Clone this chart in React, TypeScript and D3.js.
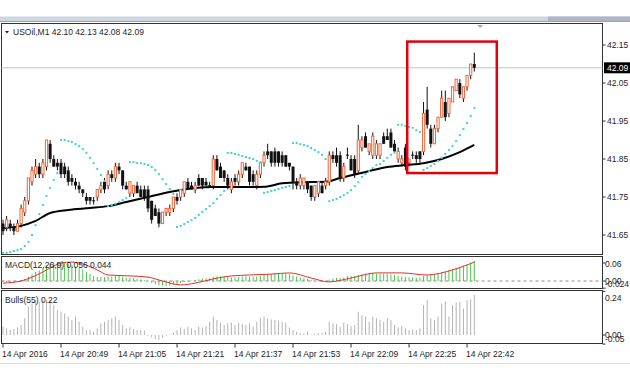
import React from 'react';
import * as d3 from 'd3';

// USOil M1 bars, oldest first: [open, high, low, close]
const ohlc: [number, number, number, number][] = [
  [41.68, 41.69, 41.65, 41.66], [41.67, 41.70, 41.66, 41.69], [41.68, 41.69, 41.66, 41.67], [41.67, 41.68, 41.65, 41.66],
  [41.66, 41.69, 41.66, 41.68], [41.68, 41.73, 41.67, 41.72], [41.71, 41.75, 41.70, 41.74], [41.74, 41.80, 41.73, 41.80],
  [41.79, 41.83, 41.78, 41.82], [41.81, 41.85, 41.80, 41.83], [41.83, 41.84, 41.80, 41.81], [41.81, 41.85, 41.80, 41.84],
  [41.83, 41.90, 41.82, 41.90], [41.89, 41.90, 41.84, 41.85], [41.85, 41.86, 41.83, 41.83], [41.84, 41.85, 41.82, 41.83],
  [41.84, 41.85, 41.80, 41.81], [41.83, 41.84, 41.80, 41.81], [41.82, 41.83, 41.78, 41.79], [41.80, 41.81, 41.78, 41.79],
  [41.79, 41.80, 41.77, 41.78], [41.78, 41.79, 41.76, 41.77], [41.77, 41.77, 41.75, 41.76], [41.75, 41.76, 41.73, 41.74],
  [41.75, 41.75, 41.73, 41.74], [41.74, 41.75, 41.73, 41.74], [41.75, 41.77, 41.74, 41.77], [41.77, 41.79, 41.76, 41.78],
  [41.79, 41.80, 41.76, 41.77], [41.78, 41.82, 41.77, 41.81], [41.81, 41.82, 41.79, 41.80], [41.80, 41.84, 41.79, 41.83],
  [41.83, 41.84, 41.81, 41.82], [41.82, 41.82, 41.77, 41.78], [41.78, 41.79, 41.77, 41.77], [41.76, 41.79, 41.75, 41.79],
  [41.76, 41.78, 41.75, 41.78], [41.78, 41.79, 41.76, 41.76], [41.77, 41.78, 41.75, 41.75], [41.77, 41.78, 41.74, 41.75],
  [41.77, 41.78, 41.71, 41.72], [41.74, 41.74, 41.68, 41.69], [41.72, 41.73, 41.70, 41.70], [41.71, 41.72, 41.67, 41.68],
  [41.68, 41.71, 41.68, 41.71], [41.71, 41.72, 41.70, 41.72], [41.71, 41.73, 41.70, 41.72], [41.72, 41.75, 41.71, 41.75],
  [41.75, 41.76, 41.73, 41.74], [41.75, 41.77, 41.74, 41.77], [41.76, 41.79, 41.75, 41.79], [41.79, 41.80, 41.77, 41.77],
  [41.78, 41.79, 41.77, 41.77], [41.77, 41.79, 41.76, 41.78], [41.80, 41.81, 41.78, 41.78], [41.80, 41.80, 41.77, 41.78],
  [41.79, 41.80, 41.78, 41.78], [41.78, 41.79, 41.78, 41.78], [41.78, 41.86, 41.77, 41.85], [41.85, 41.86, 41.82, 41.82],
  [41.83, 41.84, 41.80, 41.80], [41.82, 41.82, 41.79, 41.80], [41.80, 41.81, 41.77, 41.78], [41.77, 41.80, 41.76, 41.79],
  [41.80, 41.81, 41.78, 41.79], [41.79, 41.82, 41.78, 41.81], [41.81, 41.84, 41.80, 41.84], [41.83, 41.84, 41.82, 41.82],
  [41.83, 41.83, 41.78, 41.79], [41.81, 41.82, 41.78, 41.79], [41.78, 41.82, 41.77, 41.81], [41.81, 41.84, 41.80, 41.84],
  [41.84, 41.87, 41.83, 41.86], [41.87, 41.89, 41.85, 41.86], [41.87, 41.87, 41.83, 41.84], [41.87, 41.88, 41.83, 41.84],
  [41.87, 41.87, 41.83, 41.84], [41.86, 41.87, 41.83, 41.84], [41.86, 41.86, 41.83, 41.83], [41.84, 41.84, 41.82, 41.83],
  [41.83, 41.83, 41.77, 41.79], [41.79, 41.80, 41.77, 41.78], [41.78, 41.81, 41.77, 41.80], [41.78, 41.80, 41.77, 41.80],
  [41.79, 41.79, 41.76, 41.77], [41.78, 41.78, 41.74, 41.75], [41.75, 41.78, 41.74, 41.78], [41.76, 41.79, 41.75, 41.79],
  [41.78, 41.79, 41.76, 41.76], [41.78, 41.80, 41.77, 41.79], [41.79, 41.87, 41.78, 41.86], [41.86, 41.87, 41.84, 41.85],
  [41.86, 41.88, 41.83, 41.84], [41.86, 41.87, 41.79, 41.80], [41.80, 41.84, 41.79, 41.83], [41.86, 41.88, 41.85, 41.86],
  [41.85, 41.86, 41.82, 41.82], [41.85, 41.86, 41.80, 41.81], [41.82, 41.94, 41.81, 41.90], [41.88, 41.91, 41.87, 41.90],
  [41.91, 41.92, 41.88, 41.88], [41.87, 41.89, 41.86, 41.89], [41.86, 41.92, 41.85, 41.91], [41.86, 41.90, 41.85, 41.89],
  [41.86, 41.89, 41.85, 41.89], [41.91, 41.92, 41.89, 41.89], [41.91, 41.93, 41.90, 41.90], [41.92, 41.93, 41.88, 41.88],
  [41.89, 41.90, 41.87, 41.87], [41.85, 41.88, 41.84, 41.87], [41.84, 41.86, 41.83, 41.85], [41.88, 41.89, 41.82, 41.83],
  [41.84, 41.85, 41.83, 41.85], [41.86, 41.87, 41.85, 41.86], [41.86, 41.87, 41.84, 41.85], [41.87, 41.87, 41.84, 41.85],
  [41.87, 42.00, 41.86, 41.97], [41.98, 42.04, 41.93, 41.94], [41.93, 41.94, 41.88, 41.89], [41.89, 41.94, 41.89, 41.93],
  [41.93, 41.96, 41.92, 41.96], [41.96, 42.03, 41.96, 42.01], [42.00, 42.03, 41.95, 41.96], [41.97, 42.01, 41.96, 42.01],
  [42.00, 42.04, 42.00, 42.04], [42.03, 42.06, 42.03, 42.06], [42.05, 42.06, 42.01, 42.02], [42.01, 42.04, 42.00, 42.04],
  [42.04, 42.07, 42.03, 42.07], [42.07, 42.10, 42.06, 42.10], [42.10, 42.13, 42.08, 42.09],
];

// Parabolic SAR, one dot per bar
const sar = [
  41.603, 41.603, 41.605, 41.608, 41.610, 41.613, 41.621, 41.632, 41.650, 41.676, 41.705, 41.729, 41.753, 41.774, 41.795, 41.813,
  41.900, 41.900, 41.897, 41.895, 41.889, 41.884, 41.876, 41.866, 41.853, 41.839, 41.824, 41.808, 41.792,
  41.726, 41.729, 41.732, 41.737, 41.742, 41.747,
  41.842, 41.842, 41.839, 41.839, 41.837, 41.834, 41.829, 41.821, 41.810, 41.797, 41.784, 41.771, 41.758,
  41.671, 41.674, 41.679, 41.684, 41.689, 41.695, 41.703, 41.711, 41.718, 41.726, 41.734, 41.745, 41.755, 41.766,
  41.866, 41.866, 41.863, 41.861, 41.858, 41.855, 41.853, 41.850, 41.845, 41.842,
  41.761, 41.763, 41.766, 41.768, 41.771, 41.774, 41.776, 41.779,
  41.892, 41.892, 41.889, 41.887, 41.884, 41.879, 41.874, 41.868, 41.861, 41.850,
  41.739, 41.742, 41.745, 41.750, 41.755, 41.761, 41.768, 41.779, 41.789, 41.803, 41.810, 41.818, 41.826, 41.834, 41.837,
  41.845, 41.853, 41.861, 41.866,
  41.940, 41.940, 41.937, 41.934, 41.932, 41.926, 41.921,
  41.821, 41.826, 41.832, 41.837, 41.845, 41.853, 41.863, 41.874, 41.884, 41.897, 41.913, 41.929, 41.945, 41.963, 41.984,
];

// moving average, read at these bars
const maIdx = [0, 5, 9, 13, 18, 24, 29, 34, 40, 46, 53, 58, 66, 72, 77, 82, 89, 93, 100, 106, 111, 116, 121, 126, 130];
const maVal = [41.668, 41.674, 41.687, 41.708, 41.716, 41.721, 41.726, 41.737, 41.750, 41.763, 41.774, 41.776, 41.776,
  41.777, 41.786, 41.789, 41.790, 41.800, 41.816, 41.829, 41.834, 41.839, 41.850, 41.868, 41.887];

// MACD(12,26,9) histogram per bar
const macdHist = [
  -0.004, -0.004, -0.003, -0.003, -0.002, 0.002, 0.007, 0.015, 0.022, 0.030, 0.035, 0.042, 0.052, 0.058, 0.061, 0.062,
  0.062, 0.060, 0.057, 0.053, 0.048, 0.043, 0.037, 0.031, 0.024, 0.017, 0.014, 0.013, 0.013, 0.015, 0.015, 0.017,
  0.017, 0.014, 0.011, 0.010, 0.009, 0.007, 0.005, 0.003, -0.001, -0.006, -0.010, -0.014, -0.015, -0.016, -0.015, -0.012,
  -0.010, -0.007, -0.004, -0.001, 0.001, 0.003, 0.006, 0.008, 0.009, 0.009, 0.014, 0.016, 0.016, 0.015, 0.013, 0.012,
  0.012, 0.013, 0.015, 0.016, 0.015, 0.014, 0.015, 0.017, 0.020, 0.022, 0.023, 0.024, 0.025, 0.025, 0.024, 0.023,
  0.019, 0.015, 0.012, 0.010, 0.007, 0.003, 0.001, -0.001, -0.002, -0.001, 0.005, 0.008, 0.010, 0.010, 0.012, 0.016,
  0.017, 0.016, 0.020, 0.022, 0.024, 0.024, 0.025, 0.025, 0.024, 0.024, 0.023, 0.022, 0.020, 0.018, 0.015, 0.013,
  0.012, 0.012, 0.011, 0.011, 0.016, 0.019, 0.021, 0.023, 0.026, 0.028, 0.032, 0.036, 0.040, 0.044, 0.047, 0.051,
  0.055, 0.061, 0.067,
];

// MACD signal line, read at these bars
const sigIdx = [0, 5, 8, 11, 14, 16, 19, 22, 26, 29, 35, 40, 44, 49, 53, 58, 63, 68, 74, 79, 85, 90, 96, 103, 110, 117, 124, 130];
const sigVal = [-0.007, 0, 0.013, 0.030, 0.050, 0.060, 0.063, 0.057, 0.037, 0.020, 0.017, 0.013, 0, -0.013, -0.007,
  0.007, 0.017, 0.020, 0.023, 0.027, 0.010, -0.003, 0.010, 0.027, 0.027, 0.020, 0.037, 0.063];

// Bulls Power(55) per bar
const bulls = [
  0.046, 0.037, 0.027, 0.033, 0.042, 0.055, 0.092, 0.156, 0.174, 0.192, 0.183, 0.192, 0.192, 0.192, 0.165, 0.137,
  0.128, 0.119, 0.101, 0.082, 0.101, 0.073, 0.046, 0.027, 0.027, 0.018, 0.037, 0.064, 0.073, 0.082, 0.092, 0.101,
  0.082, 0.055, 0.037, 0.042, 0.031, 0.027, 0.027, 0.024, -0.005, -0.013, -0.024, -0.027, -0.013, -0.005, 0.003, 0.012,
  0.027, 0.042, 0.033, 0.046, 0.037, 0.027, 0.046, 0.042, 0.049, 0.073, 0.101, 0.082, 0.068, 0.055, 0.064, 0.068,
  0.055, 0.068, 0.060, 0.055, 0.064, 0.046, 0.073, 0.092, 0.101, 0.092, 0.086, 0.082, 0.079, 0.073, 0.068, 0.042,
  0.027, 0.018, 0.009, 0.009, 0.018, 0.003, 0.006, 0.009, 0.012, 0.018, 0.073, 0.064, 0.060, 0.046, 0.068, 0.060,
  0.049, 0.055, 0.128, 0.110, 0.101, 0.073, 0.101, 0.092, 0.082, 0.073, 0.092, 0.082, 0.055, 0.042, 0.049, 0.037,
  0.027, 0.031, 0.027, 0.037, 0.165, 0.192, 0.092, 0.082, 0.101, 0.174, 0.183, 0.101, 0.165, 0.178, 0.183, 0.146,
  0.192, 0.196, 0.220,
];

const timeIdx = [0, 16, 32, 48, 64, 80, 96, 112, 128];
const timeLabels = ['14 Apr 2016', '14 Apr 20:49', '14 Apr 21:05', '14 Apr 21:21', '14 Apr 21:37', '14 Apr 21:53',
  '14 Apr 22:09', '14 Apr 22:25', '14 Apr 22:42'];
const priceTicks = [42.15, 42.05, 41.95, 41.85, 41.75, 41.65];
const macdTicks = [0.06, 0, -0.024];
const bullsTicks = [0.24, 0, -0.05];

// red highlight box: [from bar, to bar, top price, bottom price]
const highlight = [111.5, 136.2, 42.159, 41.813];

const W = 630;
const H = 384;
const L = 1.5;
const R = 602.5;
const main = { top: 23.5, bottom: 254.5 };
const macdP = { top: 256.5, bottom: 288.5 };
const bullsP = { top: 290.5, bottom: 343.5 };

const FONT = "'Liberation Sans', Arial, sans-serif";
const TXT = '#1e1e1e';
const UP = '#f0673a';

export default function App() {
  const x = d3.scaleLinear().domain([0, 130]).range([3, 474.3]);
  const yP = d3.scaleLinear().domain([41.65, 42.15]).range([235, 45]);
  const yM = d3.scaleLinear().domain([0, 0.06]).range([281, 263]);
  const yB = d3.scaleLinear().domain([0, 0.22]).range([335, 295]);

  const maLine = d3
    .line<number>()
    .x((_, k) => x(maIdx[k]))
    .y((v) => yP(v))
    .curve(d3.curveMonotoneX)(maVal);

  const sigLine = d3
    .line<number>()
    .x((_, k) => x(sigIdx[k]))
    .y((v) => yM(v))
    .curve(d3.curveMonotoneX)(sigVal);

  const last = ohlc[ohlc.length - 1];
  const lastY = yP(last[3]);

  const clampLabel = (y: number, p: { top: number; bottom: number }) =>
    Math.min(p.bottom - 5, Math.max(p.top + 7, y));

  return (
    <svg
      width={W}
      height={H}
      style={{ position: 'absolute', left: 0, top: 0, background: '#fff' }}
      fontFamily={FONT}
      fontSize={8.5}
    >
      {/* window header */}
      <rect x={0} y={16.5} width={W} height={4.5} fill="#cdd7e1" />
      <rect x={548} y={16.5} width={82} height={4.5} fill="#aeb8c2" />
      <line x1={0} x2={W} y1={21.5} y2={21.5} stroke="#9aa3ab" />

      {/* panels */}
      {[main, macdP, bullsP].map((p, k) => (
        <rect key={k} x={L} y={p.top} width={R - L} height={p.bottom - p.top} fill="#fff" stroke="#333" />
      ))}

      {/* current price line */}
      <line x1={L} x2={R} y1={lastY} y2={lastY} stroke="#c4c4c4" />

      {/* chart shift marker */}
      <path d={`M${x(131.6) - 3},${main.top + 1.5}L${x(131.6) + 3},${main.top + 1.5}L${x(131.6)},${main.top + 4.5}Z`} fill="#aaa" />

      {/* moving average */}
      <path d={maLine ?? ''} fill="none" stroke="#000" strokeWidth={2} />

      {/* candles */}
      {ohlc.map(([o, h, l, c], i) => {
        const cx = x(i);
        const top = yP(Math.max(o, c));
        const bot = yP(Math.min(o, c));
        return (
          <g key={i}>
            <line x1={cx} x2={cx} y1={yP(h)} y2={yP(l)} stroke="#111" />
            {o === c ? (
              <line x1={cx - 1.5} x2={cx + 1.5} y1={top} y2={top} stroke="#111" />
            ) : c > o ? (
              <rect x={cx - 1.1} y={top} width={2.2} height={bot - top} fill="#fff" stroke={UP} />
            ) : (
              <rect x={cx - 1.5} y={top} width={3} height={bot - top} fill="#111" />
            )}
          </g>
        );
      })}

      {/* parabolic SAR */}
      {sar.map((v, i) => (
        <rect key={i} x={x(i) - 1} y={yP(v) - 1} width={2} height={2} fill="#3ed6c6" />
      ))}

      {/* highlight box */}
      <rect
        x={x(highlight[0])}
        y={yP(highlight[2])}
        width={x(highlight[1]) - x(highlight[0])}
        height={yP(highlight[3]) - yP(highlight[2])}
        fill="none"
        stroke="#e3000b"
        strokeWidth={2.5}
      />

      {/* main title */}
      <path d="M5,31L9,31L7,33.5Z" fill="#222" />
      <text x={13} y={35} fill={TXT}>
        USOil,M1  42.10 42.13 42.08 42.09
      </text>

      {/* price axis */}
      {priceTicks.map((v) => (
        <g key={v}>
          <line x1={R} x2={R + 3} y1={yP(v)} y2={yP(v)} stroke="#333" />
          <text x={607} y={yP(v) + 3} fill={TXT}>
            {v.toFixed(2)}
          </text>
        </g>
      ))}
      <rect x={604} y={lastY - 5.5} width={26} height={11} fill="#000" />
      <text x={607} y={lastY + 3} fill="#fff">
        {last[3].toFixed(2)}
      </text>

      {/* MACD */}
      <line x1={L} x2={R} y1={yM(0)} y2={yM(0)} stroke="#8a8a8a" strokeDasharray="3,3" />
      {macdHist.map((v, i) => (
        <line key={i} x1={x(i)} x2={x(i)} y1={yM(0)} y2={yM(v)} stroke="#4cc24c" />
      ))}
      <path d={sigLine ?? ''} fill="none" stroke="#e0302a" />
      <text x={5} y={268} fill={TXT}>
        MACD(12,26,9) 0.056 0.044
      </text>
      {macdTicks.map((v) => (
        <g key={v}>
          <line x1={R} x2={R + 3} y1={yM(v)} y2={yM(v)} stroke="#333" />
          <text x={605} y={clampLabel(yM(v), macdP) + 3} fill={TXT}>
            {v === 0 ? '0.00' : String(v)}
          </text>
        </g>
      ))}

      {/* Bulls power */}
      {bulls.map((v, i) => (
        <line key={i} x1={x(i)} x2={x(i)} y1={yB(0)} y2={yB(v)} stroke="#b3b3b3" />
      ))}
      <text x={5} y={303} fill={TXT}>
        Bulls(55) 0.22
      </text>
      {bullsTicks.map((v) => (
        <g key={v}>
          <line x1={R} x2={R + 3} y1={yB(v)} y2={yB(v)} stroke="#333" />
          <text x={605} y={clampLabel(yB(v), bullsP) + 3} fill={TXT}>
            {v === 0 ? '0.00' : v.toFixed(2)}
          </text>
        </g>
      ))}

      {/* time axis */}
      {timeIdx.map((t, k) => (
        <g key={t}>
          <line x1={x(t)} x2={x(t)} y1={bullsP.bottom} y2={bullsP.bottom + 4} stroke="#333" />
          <text x={x(t) - 1} y={356.5} fill={TXT}>
            {timeLabels[k]}
          </text>
        </g>
      ))}
      <line x1={0} x2={W} y1={363.5} y2={363.5} stroke="#dcdcdc" />
    </svg>
  );
}
